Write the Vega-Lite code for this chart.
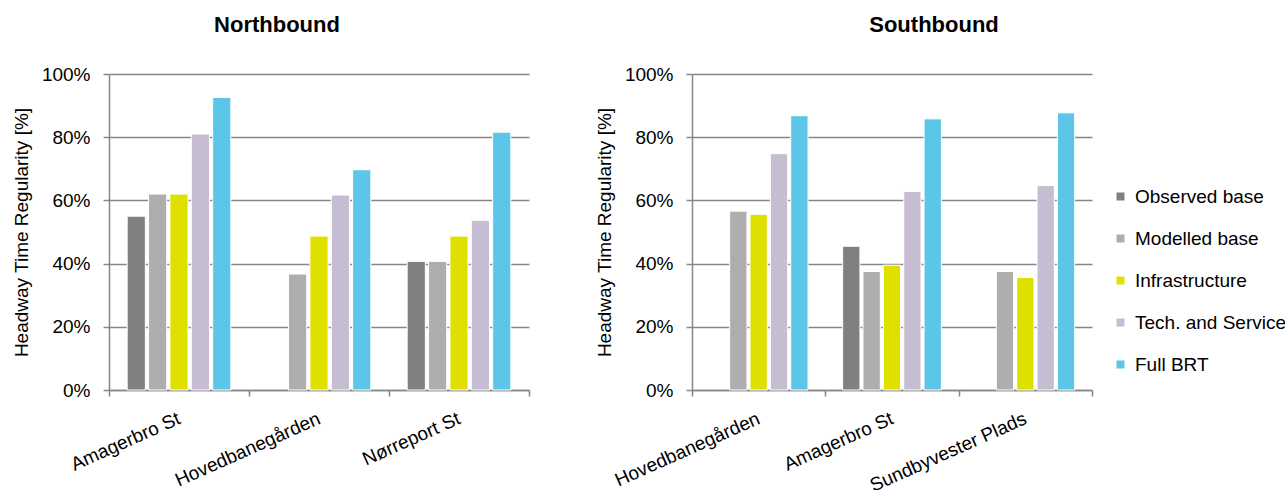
{
  "$schema": "https://vega.github.io/schema/vega-lite/v6.json",
  "background": "white",
  "padding": {"left": 12, "top": 14, "right": 5, "bottom": 5},
  "data": {
    "values": [
      {"dir": "Northbound", "station": "Amagerbro St", "scenario": "Observed base", "value": 0.55},
      {"dir": "Northbound", "station": "Amagerbro St", "scenario": "Modelled base", "value": 0.62},
      {"dir": "Northbound", "station": "Amagerbro St", "scenario": "Infrastructure", "value": 0.62},
      {"dir": "Northbound", "station": "Amagerbro St", "scenario": "Tech. and Service", "value": 0.81},
      {"dir": "Northbound", "station": "Amagerbro St", "scenario": "Full BRT", "value": 0.926},
      {"dir": "Northbound", "station": "Hovedbanegården", "scenario": "Modelled base", "value": 0.367},
      {"dir": "Northbound", "station": "Hovedbanegården", "scenario": "Infrastructure", "value": 0.487},
      {"dir": "Northbound", "station": "Hovedbanegården", "scenario": "Tech. and Service", "value": 0.617},
      {"dir": "Northbound", "station": "Hovedbanegården", "scenario": "Full BRT", "value": 0.697},
      {"dir": "Northbound", "station": "Nørreport St", "scenario": "Observed base", "value": 0.407},
      {"dir": "Northbound", "station": "Nørreport St", "scenario": "Modelled base", "value": 0.407},
      {"dir": "Northbound", "station": "Nørreport St", "scenario": "Infrastructure", "value": 0.487},
      {"dir": "Northbound", "station": "Nørreport St", "scenario": "Tech. and Service", "value": 0.537},
      {"dir": "Northbound", "station": "Nørreport St", "scenario": "Full BRT", "value": 0.816},
      {"dir": "Southbound", "station": "Hovedbanegården", "scenario": "Modelled base", "value": 0.566},
      {"dir": "Southbound", "station": "Hovedbanegården", "scenario": "Infrastructure", "value": 0.556},
      {"dir": "Southbound", "station": "Hovedbanegården", "scenario": "Tech. and Service", "value": 0.748},
      {"dir": "Southbound", "station": "Hovedbanegården", "scenario": "Full BRT", "value": 0.868},
      {"dir": "Southbound", "station": "Amagerbro St", "scenario": "Observed base", "value": 0.455},
      {"dir": "Southbound", "station": "Amagerbro St", "scenario": "Modelled base", "value": 0.375},
      {"dir": "Southbound", "station": "Amagerbro St", "scenario": "Infrastructure", "value": 0.395},
      {"dir": "Southbound", "station": "Amagerbro St", "scenario": "Tech. and Service", "value": 0.628},
      {"dir": "Southbound", "station": "Amagerbro St", "scenario": "Full BRT", "value": 0.858},
      {"dir": "Southbound", "station": "Sundbyvester Plads", "scenario": "Modelled base", "value": 0.375},
      {"dir": "Southbound", "station": "Sundbyvester Plads", "scenario": "Infrastructure", "value": 0.356},
      {"dir": "Southbound", "station": "Sundbyvester Plads", "scenario": "Tech. and Service", "value": 0.647},
      {"dir": "Southbound", "station": "Sundbyvester Plads", "scenario": "Full BRT", "value": 0.877}
    ]
  },
  "hconcat": [
    {
      "title": {"text": "Northbound", "dx": -42},
      "transform": [{"filter": "datum.dir === 'Northbound'"}],
      "width": 420,
      "height": 316,
      "mark": {"type": "bar", "stroke": "white", "strokeWidth": 1},
      "encoding": {
        "x": {
          "field": "station", "type": "nominal",
          "sort": ["Amagerbro St", "Hovedbanegården", "Nørreport St"],
          "scale": {"paddingInner": 0, "paddingOuter": 0},
          "axis": {"title": null}
        },
        "xOffset": {
          "field": "scenario", "type": "nominal",
          "scale": {"domain": ["Observed base", "Modelled base", "Infrastructure", "Tech. and Service", "Full BRT"], "paddingInner": 0.15, "paddingOuter": 0.85}
        },
        "y": {
          "field": "value", "type": "quantitative",
          "scale": {"domain": [0, 1]},
          "axis": {"title": "Headway Time Regularity [%]", "format": ".0%", "values": [0, 0.2, 0.4, 0.6, 0.8, 1]}
        },
        "color": {
          "field": "scenario", "type": "nominal",
          "scale": {
            "domain": ["Observed base", "Modelled base", "Infrastructure", "Tech. and Service", "Full BRT"],
            "range": ["#808080", "#ADAEAD", "#E0E000", "#C7BDD3", "#5BC6E8"]
          },
          "legend": {"title": null}
        }
      }
    },
    {
      "title": {"text": "Southbound", "dx": 42},
      "transform": [{"filter": "datum.dir === 'Southbound'"}],
      "width": 400,
      "height": 316,
      "mark": {"type": "bar", "stroke": "white", "strokeWidth": 1},
      "encoding": {
        "x": {
          "field": "station", "type": "nominal",
          "sort": ["Hovedbanegården", "Amagerbro St", "Sundbyvester Plads"],
          "scale": {"paddingInner": 0, "paddingOuter": 0},
          "axis": {"title": null}
        },
        "xOffset": {
          "field": "scenario", "type": "nominal",
          "scale": {"domain": ["Observed base", "Modelled base", "Infrastructure", "Tech. and Service", "Full BRT"], "paddingInner": 0.15, "paddingOuter": 0.85}
        },
        "y": {
          "field": "value", "type": "quantitative",
          "scale": {"domain": [0, 1]},
          "axis": {"title": "Headway Time Regularity [%]", "format": ".0%", "values": [0, 0.2, 0.4, 0.6, 0.8, 1]}
        },
        "color": {
          "field": "scenario", "type": "nominal",
          "scale": {
            "domain": ["Observed base", "Modelled base", "Infrastructure", "Tech. and Service", "Full BRT"],
            "range": ["#808080", "#ADAEAD", "#E0E000", "#C7BDD3", "#5BC6E8"]
          },
          "legend": {"title": null}
        }
      }
    }
  ],
  "spacing": 65,
  "resolve": {"scale": {"x": "independent", "y": "independent", "xOffset": "independent", "color": "shared"}},
  "config": {
    "view": {"stroke": null},
    "font": "Liberation Sans",
    "title": {"font": "Liberation Sans", "fontSize": 22, "fontWeight": "bold", "color": "#000000", "offset": 28, "anchor": "middle", "frame": "group"},
    "axis": {
      "domainColor": "#868686", "domainWidth": 1.5,
      "tickColor": "#868686", "tickWidth": 1.5, "tickSize": 6,
      "gridColor": "#868686", "gridWidth": 1.5,
      "labelFont": "Liberation Sans", "labelFontSize": 19, "labelColor": "#000000",
      "titleFont": "Liberation Sans", "titleFontSize": 19, "titleFontWeight": "normal", "titleColor": "#000000"
    },
    "axisY": {"grid": true, "labelPadding": 13, "titlePadding": 10},
    "axisX": {"grid": false, "tickBand": "extent", "labelAngle": -24, "labelAlign": "right", "labelBaseline": "top", "labelPadding": 13, "labelOffset": -4, "labelOverlap": false, "labelBound": false},
    "legend": {
      "orient": "none", "legendX": 1002, "legendY": 113,
      "symbolType": "square", "symbolSize": 64, "symbolStrokeWidth": 0,
      "labelFont": "Liberation Sans", "labelFontSize": 19, "labelColor": "#000000",
      "labelOffset": 5, "rowPadding": 22
    }
  }
}
